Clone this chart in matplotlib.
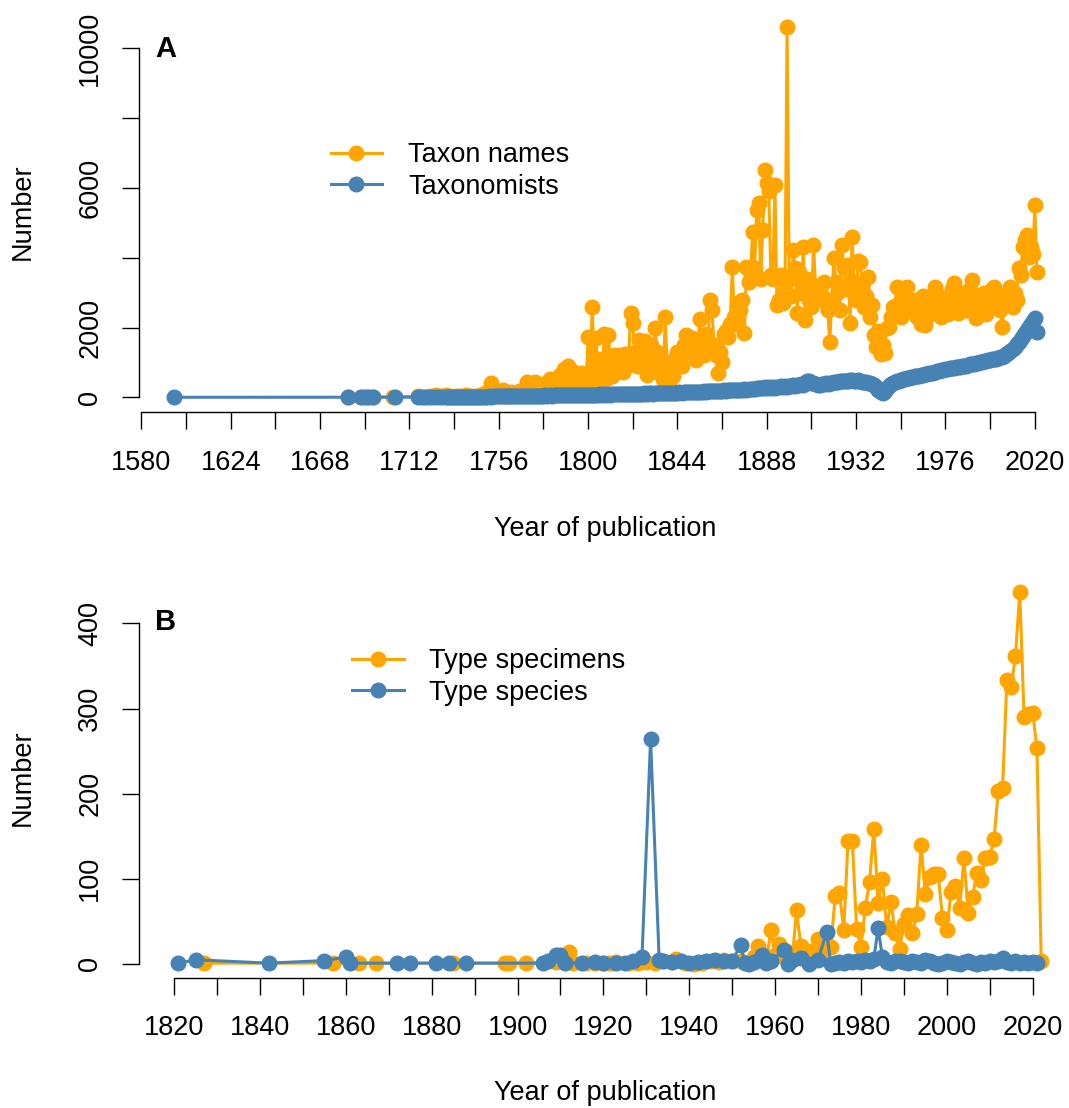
import numpy as np
import matplotlib
matplotlib.use("Agg")
import matplotlib.pyplot as plt

plt.rcParams['font.family'] = ['Liberation Sans', 'DejaVu Sans']

ORANGE = '#FFA500'
BLUE = '#4682B4'

# ---- Panel A: taxon names and taxonomists per year ----
taxon_years_early = [1682, 1688, 1691, 1694, 1704, 1716, 1719, 1722, 1725, 1727,
                     1730, 1732, 1735, 1737, 1740, 1742, 1745, 1747, 1749, 1751,
                     1752, 1754, 1755, 1757, 1758]
taxon_vals_early = [5, 10, 20, 8, 15, 30, 20, 40, 60, 30,
                    80, 50, 30, 40, 60, 30, 50, 80, 120, 90,
                    420, 60, 100, 80, 200]
taxon_years_late = list(range(1759, 2022))
taxon_vals_late = [
    60,
    90, 40, 150, 70, 120, 60, 180, 100, 80, 220,
    450, 150, 300, 90, 440, 200, 260, 120, 380, 250,
    180, 520, 320, 220, 460, 280, 650, 420, 820, 500,
    900, 380, 760, 240, 620, 460, 330, 700, 520, 280,
    1740, 620, 2600, 900, 1700, 420, 1100, 720, 1800, 520,
    1780, 950, 620, 1200, 820, 1210, 1100, 720, 1250, 900,
    1200, 2420, 2120, 1300, 900, 1640, 1500, 1100, 1600, 640,
    1200, 1500, 1000, 1980, 1300, 700, 1100, 520, 2310, 800,
    450, 900, 620, 1100, 1310, 1200, 900, 1500, 1790, 1600,
    1300, 1700, 1500, 1070, 1400, 2240, 1600, 1200, 1800, 1300,
    2790, 2500, 1500, 1200, 690, 1300, 1020, 1800, 1900, 1740,
    2100, 3740, 2300, 2100, 2690, 2500, 2800, 1830, 3740, 3300,
    3500, 4750, 3700, 5370, 5560, 3400, 4800, 6510, 6130, 5900,
    3500, 3400, 6080, 2650, 2800, 3500, 2690, 3300, 10600, 3400,
    2900, 4220, 3700, 2410, 3600, 3000, 4320, 2220, 3400, 2800,
    2600, 4360, 3200, 3000, 3100, 2900, 3300, 2700, 2500, 1590,
    2800, 3980, 3300, 3030, 2500, 4360, 3700, 3100, 3800, 2120,
    4600, 3300, 2800, 3900, 3880, 3200, 2600, 2900, 3460, 2300,
    2650, 1780, 1450, 1900, 1250, 1500, 1260, 2000, 2020, 2300,
    2600, 2500, 3170, 2700, 2310, 2500, 2900, 3170, 2600, 2800,
    2500, 2790, 2300, 2700, 2100, 2900, 2070, 2500, 2800, 2400,
    2700, 3170, 2600, 2900, 2300, 2600, 2800, 2400, 2900, 3100,
    3270, 2700, 2410, 2900, 2600, 3000, 2500, 2800, 3100, 3360,
    2700, 2260, 2900, 2500, 2800, 3000, 2400, 2700, 2900, 3100,
    3170, 2600, 2800, 2500, 2020, 2900, 2700, 3000, 3170, 2600,
    3000, 2790, 3700, 3500, 4300, 4500, 4650, 4030, 4300, 4100,
    5510, 3600,
]
taxon_years = taxon_years_early + taxon_years_late
taxon_vals = taxon_vals_early + taxon_vals_late

people_years_early = [1596, 1682, 1688, 1690, 1692, 1694, 1705, 1716, 1718, 1720,
                      1722, 1724, 1726, 1728, 1730]
people_vals_early = [1, 2, 3, 2, 3, 2, 4, 5, 3, 6, 4, 8, 5, 7, 10]
people_years_late = list(range(1731, 2022))
people_vals_late = [
    8, 10, 7, 12, 9, 11, 14, 10, 13,
    12, 15, 11, 16, 14, 18, 15, 20, 17, 22,
    19, 24, 21, 26, 23, 28, 25, 30, 27, 32,
    30, 34, 31, 36, 33, 38, 35, 40, 37, 42,
    40, 44, 41, 46, 43, 48, 45, 50, 47, 52,
    50, 54, 51, 56, 53, 58, 55, 60, 57, 62,
    60, 64, 61, 66, 63, 68, 65, 70, 67, 72,
    75, 70, 80, 74, 78, 72, 82, 76, 85, 80,
    84, 78, 88, 82, 90, 86, 92, 88, 96, 90,
    98, 94, 102, 96, 105, 100, 108, 103, 112, 106,
    110, 115, 108, 118, 112, 120, 116, 125, 118, 128,
    125, 132, 128, 136, 130, 140, 135, 145, 138, 150,
    145, 155, 150, 160, 155, 165, 158, 170, 165, 175,
    172, 180, 175, 185, 178, 190, 185, 195, 190, 200,
    198, 205, 200, 215, 208, 220, 212, 230, 222, 240,
    235, 250, 245, 262, 255, 270, 260, 285, 275, 290,
    270, 285, 280, 300, 290, 310, 295, 320, 305, 330,
    320, 340, 330, 355, 345, 370, 360, 420, 480, 470,
    420, 400, 380, 360, 350, 370, 390, 400, 380, 410,
    420, 440, 430, 450, 460, 455, 470, 480, 470, 490,
    500, 480, 470, 490, 460, 450, 430, 440, 420, 400,
    380, 340, 300, 220, 160, 120, 180, 260, 320, 380,
    400, 430, 460, 480, 490, 510, 530, 540, 550, 570,
    580, 600, 610, 620, 640, 650, 660, 680, 690, 700,
    710, 730, 740, 750, 770, 780, 800, 810, 830, 840,
    850, 860, 870, 880, 890, 900, 910, 920, 940, 950,
    960, 980, 990, 1000, 1020, 1030, 1040, 1060, 1070, 1090,
    1100, 1110, 1130, 1150, 1160, 1190, 1230, 1270, 1320, 1380,
    1450, 1520, 1590, 1680, 1760, 1850, 1940, 2020, 2100, 2180,
    2270, 1880,
]
people_years = people_years_early + people_years_late
people_vals = people_vals_early + people_vals_late

# ---- Panel B: type specimens and type species per year ----
spec_years = [1827, 1857, 1863, 1867, 1885, 1897, 1898, 1902, 1909, 1912,
              1913, 1916, 1918, 1920, 1921, 1922, 1923, 1926, 1928, 1930,
              1932, 1934, 1936, 1937, 1939, 1941, 1943, 1945, 1947, 1948,
              1950, 1952, 1954, 1955, 1956, 1957, 1958, 1959, 1960, 1961,
              1962, 1963, 1964, 1965, 1966, 1967, 1968, 1969, 1970, 1971,
              1972, 1973, 1974, 1975, 1976, 1977, 1978, 1979, 1980, 1981,
              1982, 1983, 1984, 1985, 1986, 1987, 1988, 1989, 1990, 1991,
              1992, 1993, 1994, 1995, 1996, 1997, 1998, 1999, 2000, 2001,
              2002, 2003, 2004, 2005, 2006, 2007, 2008, 2009, 2010, 2011,
              2012, 2013, 2014, 2015, 2016, 2017, 2018, 2019, 2020, 2021,
              2022]
spec_vals = [1, 1, 1, 1, 1, 1, 1, 1, 2, 14,
             1, 1, 1, 1, 1, 1, 2, 1, 1, 2,
             1, 3, 2, 6, 1, 0, 1, 3, 2, 5,
             3, 4, 2, 8, 21, 12, 3, 40, 10, 23,
             8, 14, 5, 63, 21, 10, 15, 8, 29, 15,
             20, 20, 80, 83, 40, 145, 144, 41, 20, 66,
             96, 159, 72, 100, 43, 73, 36, 18, 47, 57,
             36, 59, 140, 82, 102, 106, 106, 54, 40, 85,
             92, 66, 124, 60, 79, 107, 99, 125, 126, 147,
             203, 207, 333, 325, 362, 437, 290, 293, 295, 254,
             3]

species_years = [1821, 1825, 1842, 1855, 1860, 1861, 1872, 1875, 1881, 1884,
                 1888, 1906, 1907, 1909, 1910, 1911, 1915, 1918, 1920, 1923,
                 1925, 1927, 1929, 1931, 1933, 1934, 1936, 1938, 1940, 1942,
                 1944, 1946, 1948, 1950, 1952, 1953, 1954, 1955, 1957, 1958,
                 1959, 1962, 1963, 1964, 1966, 1968, 1970, 1972, 1973, 1974,
                 1975, 1976, 1977, 1978, 1979, 1980, 1981, 1982, 1983, 1984,
                 1985, 1986, 1987, 1988, 1989, 1990, 1991, 1992, 1993, 1994,
                 1995, 1996, 1997, 1998, 1999, 2000, 2001, 2002, 2003, 2004,
                 2005, 2006, 2007, 2008, 2009, 2010, 2011, 2012, 2013, 2014,
                 2015, 2016, 2017, 2018, 2019, 2020, 2021]
species_vals = [1, 5, 1, 4, 8, 1, 1, 1, 1, 1,
                1, 1, 3, 10, 10, 1, 1, 2, 1, 1,
                1, 3, 8, 264, 5, 3, 2, 3, 1, 2,
                4, 5, 3, 4, 22, 1, 0, 2, 11, 1,
                3, 16, 0, 5, 7, 0, 5, 37, 0, 1,
                2, 1, 3, 2, 4, 2, 5, 3, 6, 42,
                8, 2, 1, 3, 4, 2, 1, 3, 2, 1,
                5, 4, 1, 0, 1, 4, 2, 1, 0, 2,
                3, 1, 0, 2, 1, 3, 2, 4, 7, 2,
                1, 3, 1, 2, 1, 2, 1]

W, H = 1069, 1108
fig = plt.figure(figsize=(W / 100, H / 100), dpi=100)


def add_axes_px(left, right, top, bottom):
    return fig.add_axes([left / W, 1 - bottom / H, (right - left) / W, (bottom - top) / H])


def style_axis(ax, xticks, xlabels, yticks, ylabels):
    for s in ['top', 'right']:
        ax.spines[s].set_visible(False)
    ax.spines['left'].set_bounds(yticks[0], yticks[-1])
    ax.spines['bottom'].set_bounds(xticks[0], xticks[-1])
    ax.spines['left'].set_linewidth(1.0)
    ax.spines['bottom'].set_linewidth(1.0)
    ax.set_xticks(xticks)
    ax.set_xticklabels(xlabels)
    ax.set_yticks(yticks)
    ax.set_yticklabels(ylabels, rotation=90, va='center', ha='right')
    ax.tick_params(axis='both', length=12, width=1.0, labelsize=19.5, colors='black')
    ax.tick_params(axis='x', pad=15)
    ax.tick_params(axis='y', pad=14)


line_kw = dict(marker='o', markersize=10.5, linewidth=2.2, clip_on=False)

# Panel A
axA = add_axes_px(139.3, 1071.4, 12.4, 412.3)
axA.plot(taxon_years, taxon_vals, color=ORANGE, label='Taxon names', **line_kw)
axA.plot(people_years, people_vals, color=BLUE, label='Taxonomists', **line_kw)
axA.set_xlim(1579, 2038)
axA.set_ylim(-430, 11030)
xa = list(range(1580, 2021, 22))
style_axis(axA, xa, [str(v) if i % 2 == 0 else '' for i, v in enumerate(xa)],
           [0, 2000, 4000, 6000, 8000, 10000], ['0', '2000', '', '6000', '', '10000'])
axA.legend(loc='upper left', bbox_to_anchor=(330.7 / W, 1 - 142 / H),
           bbox_transform=fig.transFigure, frameon=False, fontsize=19.5,
           borderpad=0, borderaxespad=0, handlelength=1.9, handletextpad=0.95,
           labelspacing=0.22)

# Panel B
axB = add_axes_px(139.3, 1076.0, 576.5, 977.7)
axB.plot(spec_years, spec_vals, color=ORANGE, label='Type specimens', **line_kw)
axB.plot(species_years, species_vals, color=BLUE, label='Type species', **line_kw)
axB.set_xlim(1811.9, 2030.1)
axB.set_ylim(-16.1, 455)
xb = list(range(1820, 2021, 10))
style_axis(axB, xb, [str(v) if i % 2 == 0 else '' for i, v in enumerate(xb)],
           [0, 100, 200, 300, 400], ['0', '100', '200', '300', '400'])
axB.legend(loc='upper left', bbox_to_anchor=(352.3 / W, 1 - 648 / H),
           bbox_transform=fig.transFigure, frameon=False, fontsize=19.5,
           borderpad=0, borderaxespad=0, handlelength=1.9, handletextpad=0.95,
           labelspacing=0.22)

# axis titles and panel letters
for yc in (212, 778):
    fig.text(23 / W, 1 - yc / H, 'Number', rotation=90, ha='center', va='center', fontsize=19.5)
for yc in (529, 1093):
    fig.text(605 / W, 1 - yc / H, 'Year of publication', ha='center', va='center', fontsize=19.5)
fig.text(165.5 / W, 1 - 49 / H, 'A', ha='center', va='center', fontsize=21, fontweight='bold')
fig.text(166 / W, 1 - 622 / H, 'B', ha='center', va='center', fontsize=21, fontweight='bold')

fig.savefig('out.png', dpi=100)
